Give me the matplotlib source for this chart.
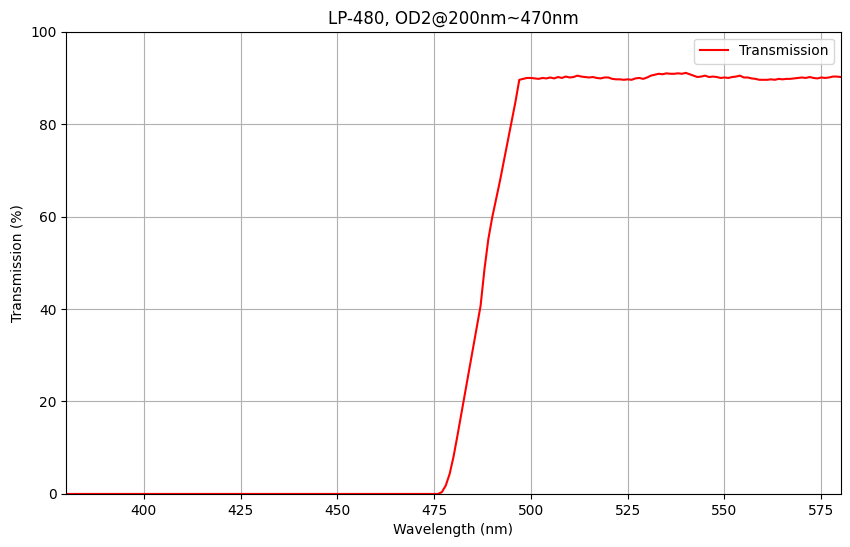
import numpy as np
import matplotlib
matplotlib.use('Agg')
import matplotlib.pyplot as plt

# longitud de onda (nm), paso de 1 nm
wavelength = np.arange(380, 581)

# transmision (%)
trans_blocked = [0.0] * 96  # 380-475 nm
trans_edge = [0.0, 0.4, 1.8, 4.3, 8.0, 12.5, 17.2, 21.9, 26.6, 31.3,
              36.0, 40.7, 48.6, 55.1, 59.8, 63.7, 67.7, 72.0, 76.2, 80.5,
              84.8, 89.6]  # 476-497 nm
trans_pass = [89.8, 90.0, 90.0, 89.9, 89.8, 90.0, 89.9, 90.1, 89.9, 90.2,
              90.0, 90.3, 90.1, 90.2, 90.5, 90.3, 90.2, 90.1, 90.2, 90.0,
              89.9, 90.1, 90.1, 89.8, 89.7, 89.7, 89.6, 89.7, 89.6, 89.9,
              90.0, 89.8, 90.1, 90.5, 90.7, 90.9, 90.8, 91.0, 90.9, 90.9,
              91.0, 90.9, 91.1, 90.8, 90.5, 90.2, 90.3, 90.5, 90.2, 90.3,
              90.2, 90.0, 90.1, 90.0, 90.2, 90.3, 90.5, 90.1, 90.1, 89.9,
              89.8, 89.6, 89.6, 89.6, 89.7, 89.6, 89.8, 89.7, 89.8, 89.8,
              89.9, 90.0, 90.1, 90.0, 90.2, 90.0, 89.9, 90.1, 90.0, 90.1,
              90.3, 90.3, 90.2]  # 498-580 nm
transmission = trans_blocked + trans_edge + trans_pass

fig = plt.figure(figsize=(8.5, 5.47), dpi=100)
ax = fig.add_axes([0.078, 0.097, 0.911, 0.845])
ax.plot(wavelength, transmission, c='r', label='Transmission')
ax.set_title('LP-480, OD2@200nm~470nm')
ax.set_xlabel('Wavelength (nm)')
ax.set_ylabel('Transmission (%)')
ax.set_xlim((380, 580))
ax.set_ylim((0, 100))
ax.grid()
ax.legend(loc='upper right')

fig.savefig('out.png', dpi=100)
